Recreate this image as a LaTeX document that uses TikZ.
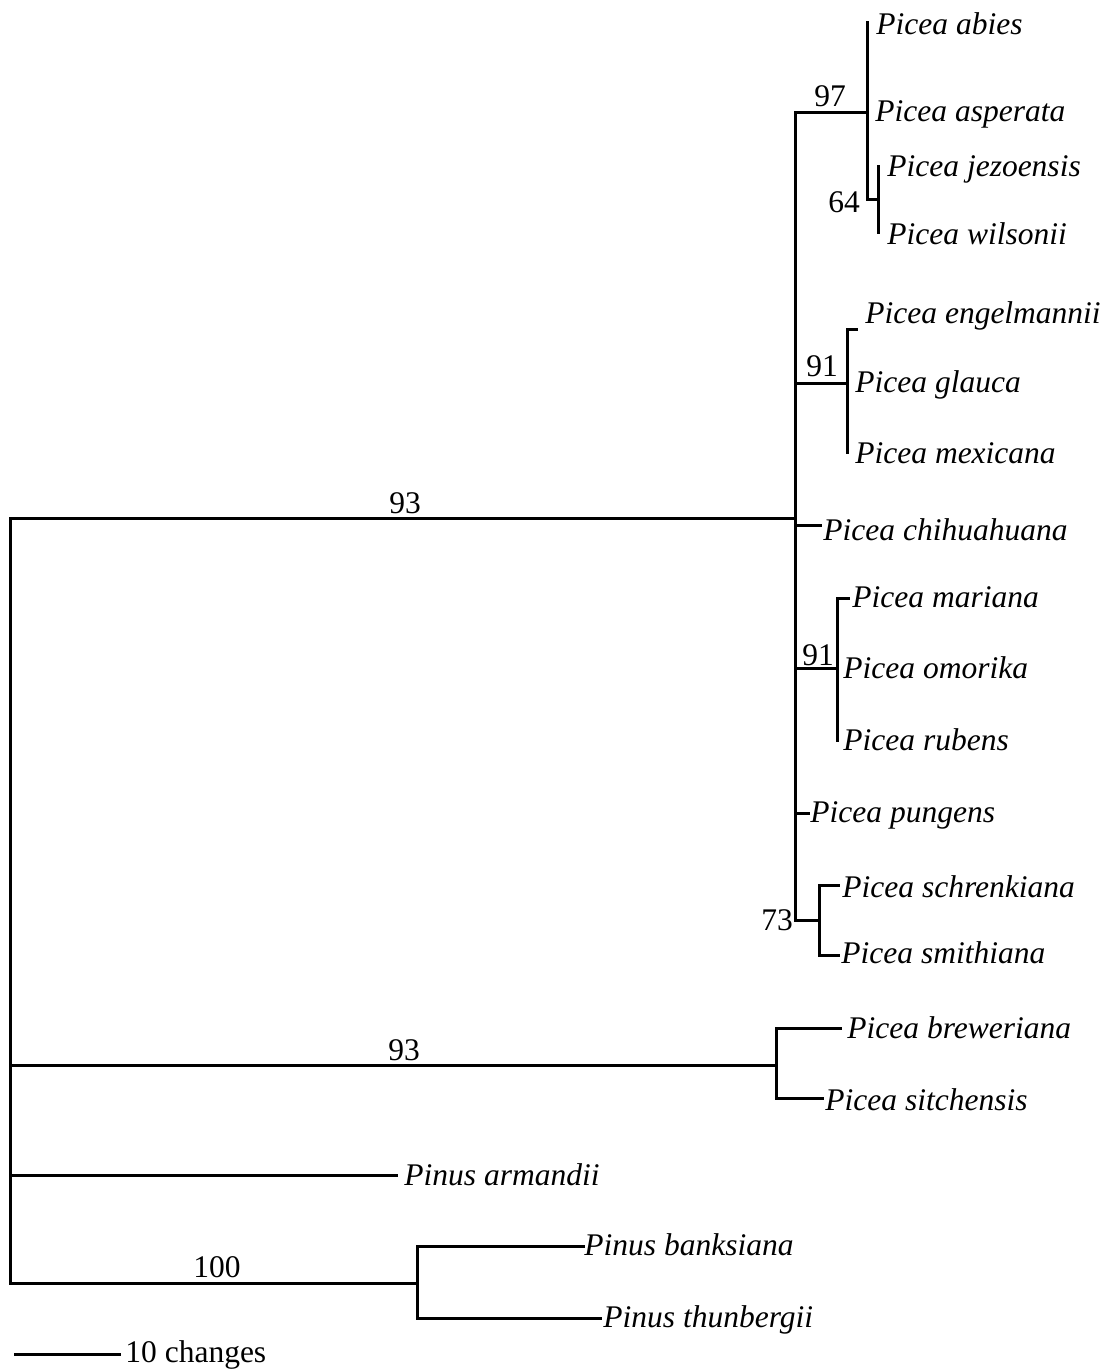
\documentclass[tikz,border=0pt]{standalone}
\usepackage{fontspec}
\setmainfont{Liberation Serif}
\begin{document}
\begin{tikzpicture}[x=0.5pt,y=-0.5pt,
  branch/.style={line width=1.5pt, line join=miter, line cap=rect},
  taxon/.style={anchor=base west, inner sep=0pt, font=\fontsize{15.75}{18}\selectfont\itshape},
  support/.style={anchor=base, inner sep=0pt, font=\fontsize{15.75}{18}\selectfont}]
\useasboundingbox (0,0) rectangle (1107,1369);

% ---------- coordinates ----------
\coordinate (rootT) at (10,518);
\coordinate (rootB) at (10,1283);
\coordinate (picea) at (795,518);
\coordinate (piceaT) at (795,113);
\coordinate (piceaB) at (795,920);
% 97 clade
\coordinate (c97) at (867,113);
\coordinate (c97T) at (867,23);
\coordinate (c97B) at (867,200);
\coordinate (c64) at (878,200);
\coordinate (c64T) at (878,167);
\coordinate (c64B) at (878,233);
% 91 clade (upper)
\coordinate (c91a) at (847,383);
\coordinate (c91aT) at (847,330);
\coordinate (c91aB) at (847,452);
\coordinate (tEng) at (856,330);
% chihuahuana
\coordinate (chiA) at (795,525);
\coordinate (tChi) at (820,525);
% 91 clade (lower)
\coordinate (p91b) at (795,668);
\coordinate (c91b) at (837,668);
\coordinate (c91bT) at (837,598);
\coordinate (c91bB) at (837,740);
\coordinate (tMar) at (848,598);
% pungens
\coordinate (punA) at (795,813);
\coordinate (tPun) at (808,813);
% 73 clade
\coordinate (c73) at (819,920);
\coordinate (c73T) at (819,885);
\coordinate (c73B) at (819,955);
\coordinate (tSch) at (838,885);
\coordinate (tSmi) at (838,955);
% breweriana / sitchensis
\coordinate (r93b) at (10,1065);
\coordinate (c93b) at (776,1065);
\coordinate (c93bT) at (776,1028);
\coordinate (c93bB) at (776,1098);
\coordinate (tBre) at (840,1028);
\coordinate (tSit) at (822,1098);
% Pinus
\coordinate (rArm) at (10,1175);
\coordinate (tArm) at (396,1175);
\coordinate (c100) at (417,1283);
\coordinate (c100T) at (417,1246);
\coordinate (c100B) at (417,1318);
\coordinate (tBan) at (583,1246);
\coordinate (tThu) at (600,1318);
% scale bar
\coordinate (sbA) at (15,1354);
\coordinate (sbB) at (119,1354);

% ---------- branches ----------
\draw[branch] (rootT) -- (rootB);
\draw[branch] (rootT) -- (picea);
\draw[branch] (piceaT) -- (piceaB);
\draw[branch] (piceaT) -- (c97);
\draw[branch] (c97T) -- (c97B) -- (c64);
\draw[branch] (c64T) -- (c64B);
\draw[branch] (picea |- c91a) -- (c91a);
\draw[branch] (tEng) -- (c91aT) -- (c91aB);
\draw[branch] (chiA) -- (tChi);
\draw[branch] (p91b) -- (c91b);
\draw[branch] (tMar) -- (c91bT) -- (c91bB);
\draw[branch] (punA) -- (tPun);
\draw[branch] (piceaB) -- (c73);
\draw[branch] (tSch) -- (c73T) -- (c73B) -- (tSmi);
\draw[branch] (r93b) -- (c93b);
\draw[branch] (tBre) -- (c93bT) -- (c93bB) -- (tSit);
\draw[branch] (rArm) -- (tArm);
\draw[branch] (rootB) -- (c100);
\draw[branch] (tBan) -- (c100T) -- (c100B) -- (tThu);
\draw[branch] (sbA) -- (sbB);

% ---------- taxa ----------
\node[taxon] (abies) at (876,35) {Picea abies};
\node[taxon] (asperata) at (875,122) {Picea asperata};
\node[taxon] (jezoensis) at (887,177) {Picea jezoensis};
\node[taxon] (wilsonii) at (887,245) {Picea wilsonii};
\node[taxon] (engelmannii) at (865,323) {Picea engelmannii};
\node[taxon] (glauca) at (855,392) {Picea glauca};
\node[taxon] (mexicana) at (855,463) {Picea mexicana};
\node[taxon] (chihuahuana) at (823,540) {Picea chihuahuana};
\node[taxon] (mariana) at (852,607) {Picea mariana};
\node[taxon] (omorika) at (843,678) {Picea omorika};
\node[taxon] (rubens) at (843,750) {Picea rubens};
\node[taxon] (pungens) at (810,822) {Picea pungens};
\node[taxon] (schrenkiana) at (842,897) {Picea schrenkiana};
\node[taxon] (smithiana) at (841,963) {Picea smithiana};
\node[taxon] (breweriana) at (847,1038) {Picea breweriana};
\node[taxon] (sitchensis) at (825,1110) {Picea sitchensis};
\node[taxon] (armandii) at (404,1185) {Pinus armandii};
\node[taxon] (banksiana) at (584,1255) {Pinus banksiana};
\node[taxon] (thunbergii) at (603,1327) {Pinus thunbergii};

% ---------- support values ----------
\node[support] (s97) at (830,107) {97};
\node[support] (s64) at (844,213) {64};
\node[support] (s91a) at (822,377) {91};
\node[support] (s93a) at (405,513) {93};
\node[support] (s91b) at (818,665) {91};
\node[support] (s73) at (777,930) {73};
\node[support] (s93b) at (404,1060) {93};
\node[support] (s100) at (217,1277) {100};

% ---------- scale ----------
\node[anchor=base west, inner sep=0pt, font=\fontsize{15.75}{18}\selectfont] (scale) at (125,1362) {10 changes};
\end{tikzpicture}
\end{document}
